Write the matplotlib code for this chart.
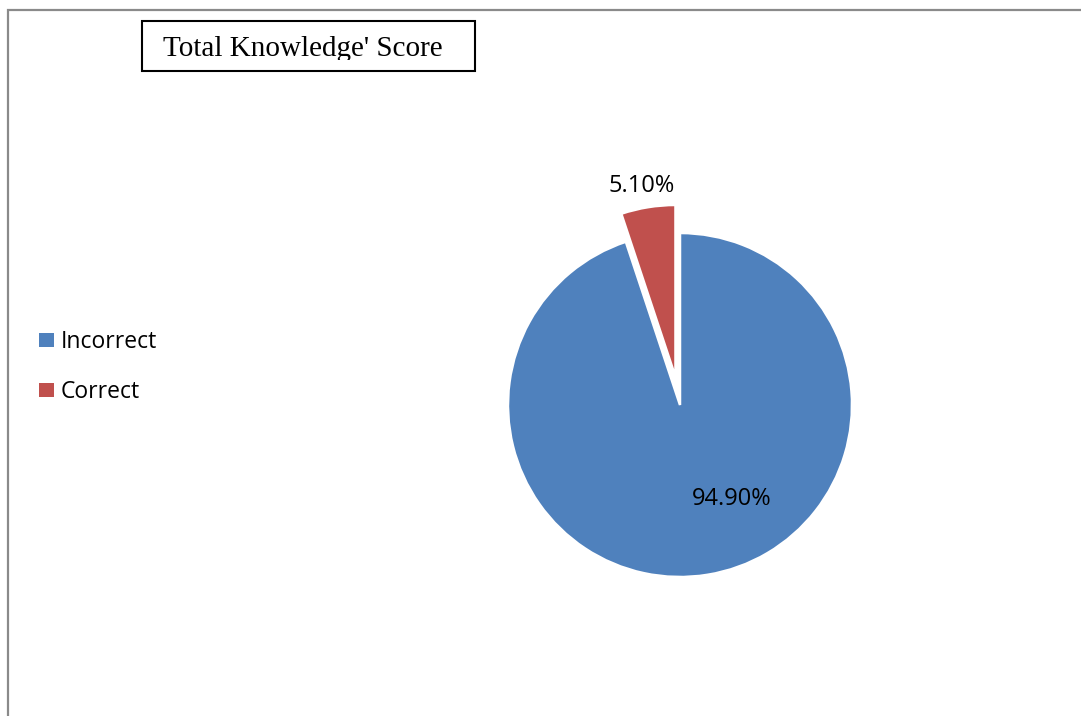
import matplotlib
matplotlib.use("Agg")
import matplotlib.pyplot as plt
from matplotlib.patches import Rectangle, Patch
import numpy as np

# data
labels = ["Incorrect", "Correct"]
values = [94.9, 5.1]
colors = ["#4F81BD", "#C0504D"]
explode = [0, 0.165]
title = "Total Knowledge' Score"

W, H = 1081, 716
fig = plt.figure(figsize=(W / 100, H / 100), dpi=100)


def fx(px):
    return px / W


def fy(py):
    return (H - py) / H


# outer gray frame (cut off at right/bottom like the original)
fig.patches.append(Rectangle((fx(8), fy(H + 20)), fx(W + 40), (H + 10) / H,
                             transform=fig.transFigure, fill=False,
                             edgecolor="#8a8a8a", lw=1.6))

# pie axes, centre at (680, 405) px, radius 172 px
cx, cy, r = 680, 405, 172
half = 200
ax = fig.add_axes([fx(cx - half), fy(cy + half), 2 * half / W, 2 * half / H])
wedges, texts, autotexts = ax.pie(
    values, colors=colors, explode=explode, startangle=90, counterclock=False,
    autopct="%.2f%%", pctdistance=0.6,
    wedgeprops=dict(edgecolor="white", linewidth=1.8),
    textprops=dict(fontsize=17, family="Open Sans", color="black"))
lim = half / r
ax.set_xlim(-lim, lim)
ax.set_ylim(-lim, lim)

# label placement (distance from centre in radii, angle in degrees)
label_pos = [(0.625, -61), (1.29, 100)]
for t, (d, a) in zip(autotexts, label_pos):
    t.set_position((d * np.cos(np.radians(a)), d * np.sin(np.radians(a))))
    t.set_ha("center")
    t.set_va("center")

# legend
handles = [Patch(facecolor=c, edgecolor="none") for c in colors]
fig.legend(handles, labels, loc="center left",
           bbox_to_anchor=(fx(18), fy(367)), frameon=False,
           prop=dict(family="Open Sans", size=16.5),
           handlelength=0.65, handleheight=0.55, handletextpad=0.3,
           labelspacing=1.15)

# title box
fig.patches.append(Rectangle((fx(142), fy(71)), fx(475) - fx(142), 50 / H,
                             transform=fig.transFigure, fill=False,
                             edgecolor="black", lw=1.5))
t = fig.text(fx(163), fy(56), title, ha="left", va="baseline",
             family="Liberation Serif", fontsize=21)
clip = Rectangle((fx(142), fy(59.5)), fx(475) - fx(142), 38 / H,
                 transform=fig.transFigure)
t.set_clip_path(clip)

fig.savefig("out.png", dpi=100)
